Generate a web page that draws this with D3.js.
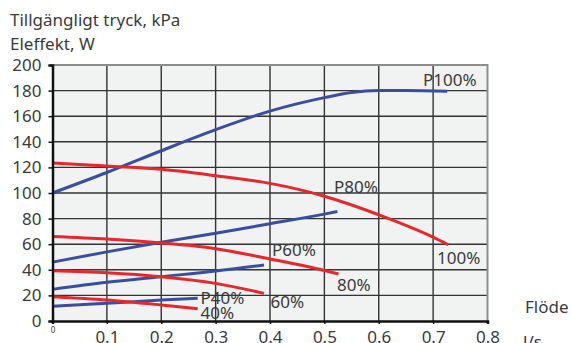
<!DOCTYPE html>
<html>
<head>
<meta charset="utf-8">
<script src="https://cdn.jsdelivr.net/npm/d3@7"></script>
<style>
  html, body { margin: 0; padding: 0; background: #fff; }
  svg { display: block; }
  text { font-family: "Noto Sans", "Open Sans", sans-serif; fill: #3a3a3a; }
</style>
</head>
<body>
<svg id="chart" width="571" height="343"></svg>
<script>
// Flow in l/s, pressure in kPa, power in W
const xTicks = [0, 0.1, 0.2, 0.3, 0.4, 0.5, 0.6, 0.7, 0.8];
const yTicks = [0, 20, 40, 60, 80, 100, 120, 140, 160, 180, 200];

// Power curves (Eleffekt, W)
const flowP100 = [0, 0.1, 0.2, 0.3, 0.4, 0.5, 0.55, 0.6, 0.65, 0.726];
const powerP100 = [100, 116, 133, 149.5, 164, 174.5, 178.5, 180, 180, 179.5];
const flowP80 = [0, 0.1, 0.2, 0.3, 0.4, 0.5, 0.524];
const powerP80 = [46, 54, 61.5, 68.5, 76, 83.5, 85.5];
const flowP60 = [0, 0.1, 0.2, 0.3, 0.389];
const powerP60 = [24.7, 30.2, 34.6, 39, 43.7];
const flowP40 = [0, 0.1, 0.2, 0.267];
const powerP40 = [11.5, 13.8, 16.4, 17.7];

// Available pressure curves (Tillgängligt tryck, kPa)
const flow100 = [0, 0.1, 0.2, 0.3, 0.4, 0.5, 0.6, 0.7, 0.728];
const press100 = [123.5, 121, 118.5, 113.5, 107.5, 97.5, 83, 65.5, 59.5];
const flow80 = [0, 0.1, 0.2, 0.3, 0.4, 0.5, 0.526];
const press80 = [66, 64, 61, 56.5, 48.5, 39.5, 36.7];
const flow60 = [0, 0.1, 0.2, 0.3, 0.389];
const press60 = [39.3, 37.7, 34.6, 29.4, 21.6];
const flow40 = [0, 0.1, 0.2, 0.267];
const press40 = [19, 16.4, 12.5, 9.6];

const BLUE = "#3a4ea1";
const RED = "#e8272c";

const series = [
  { flow: flowP100, values: powerP100, color: BLUE, label: "P100%", dx: 423, dy: 86 },
  { flow: flowP80, values: powerP80, color: BLUE, label: "P80%", dx: 334, dy: 192.5 },
  { flow: flowP60, values: powerP60, color: BLUE, label: "P60%", dx: 272, dy: 256 },
  { flow: flowP40, values: powerP40, color: BLUE, label: "P40%", dx: 200.5, dy: 303.5 },
  { flow: flow100, values: press100, color: RED, label: "100%", dx: 437, dy: 264 },
  { flow: flow80, values: press80, color: RED, label: "80%", dx: 337, dy: 291 },
  { flow: flow60, values: press60, color: RED, label: "60%", dx: 270.5, dy: 308 },
  { flow: flow40, values: press40, color: RED, label: "40%", dx: 200.5, dy: 318.5 }
];

const svg = d3.select("#chart");
const x = d3.scaleLinear().domain([0, 0.8]).range([52.5, 487.5]);
const y = d3.scaleLinear().domain([0, 200]).range([321, 65]);

// Plot background
svg.append("rect")
  .attr("x", x(0)).attr("y", y(200))
  .attr("width", x(0.8) - x(0)).attr("height", y(0) - y(200))
  .attr("fill", "#f1f2f2");

// Grid
const grid = svg.append("g").attr("stroke", "#333").attr("stroke-width", 1.4);
grid.selectAll("line.v").data(xTicks.filter(d => d > 0 && d < 0.8)).join("line")
  .attr("class", "v")
  .attr("x1", d => x(d)).attr("x2", d => x(d))
  .attr("y1", y(200)).attr("y2", y(0));
grid.selectAll("line.h").data(yTicks.filter(d => d > 0 && d < 200)).join("line")
  .attr("class", "h")
  .attr("x1", x(0)).attr("x2", x(0.8))
  .attr("y1", d => y(d)).attr("y2", d => y(d));

// Top and right frame
svg.append("path")
  .attr("d", `M${x(0)},${y(200)}H${x(0.8)}V${y(0)}`)
  .attr("fill", "none").attr("stroke", "#8c8c8c").attr("stroke-width", 2);

// Curves
const line = d3.line()
  .x(d => x(d[0])).y(d => y(d[1]))
  .curve(d3.curveMonotoneX);

svg.append("g").selectAll("path").data(series).join("path")
  .attr("d", s => line(s.flow.map((f, i) => [f, s.values[i]])))
  .attr("fill", "none")
  .attr("stroke", s => s.color)
  .attr("stroke-width", 3)
  .attr("stroke-linecap", "butt");

// Axes
const yAxis = d3.axisLeft(y).tickValues(yTicks).tickSize(4).tickPadding(7);
const gy = svg.append("g").attr("transform", `translate(${x(0)},0)`).call(yAxis);
gy.select(".domain").attr("stroke", "#111").attr("stroke-width", 2.5);
gy.selectAll(".tick line").attr("stroke", "#111").attr("stroke-width", 1.5);
gy.selectAll(".tick text")
  .attr("font-size", 17).attr("fill", "#3a3a3a")
  .attr("font-family", "Noto Sans, sans-serif");

const xAxis = d3.axisBottom(x).tickValues(xTicks).tickSize(3)
  .tickFormat(d => d === 0 ? "0" : d3.format(".1f")(d));
const gx = svg.append("g").attr("transform", `translate(0,${y(0)})`).call(xAxis);
gx.select(".domain").attr("stroke", "#111").attr("stroke-width", 2.5);
gx.selectAll(".tick line").attr("stroke", "#111").attr("stroke-width", 1.5);
gx.selectAll(".tick text")
  .attr("font-size", d => d === 0 ? 8 : 17)
  .attr("font-family", "Noto Sans, sans-serif")
  .attr("fill", "#3a3a3a")
  .attr("dy", null)
  .attr("y", d => d === 0 ? 12 : 21.5);

// Series labels
svg.append("g").selectAll("text").data(series).join("text")
  .attr("x", s => s.dx).attr("y", s => s.dy)
  .attr("font-size", 17)
  .text(s => s.label);

// Axis titles
svg.append("text").attr("x", 10).attr("y", 25.5).attr("font-size", 17)
  .text("Tillgängligt tryck, kPa");
svg.append("text").attr("x", 10).attr("y", 50).attr("font-size", 17)
  .text("Eleffekt, W");
svg.append("text").attr("x", 525).attr("y", 312.5).attr("font-size", 17)
  .text("Flöde");
svg.append("text").attr("x", 523).attr("y", 348).attr("font-size", 17)
  .text("l/s");
</script>
</body>
</html>
